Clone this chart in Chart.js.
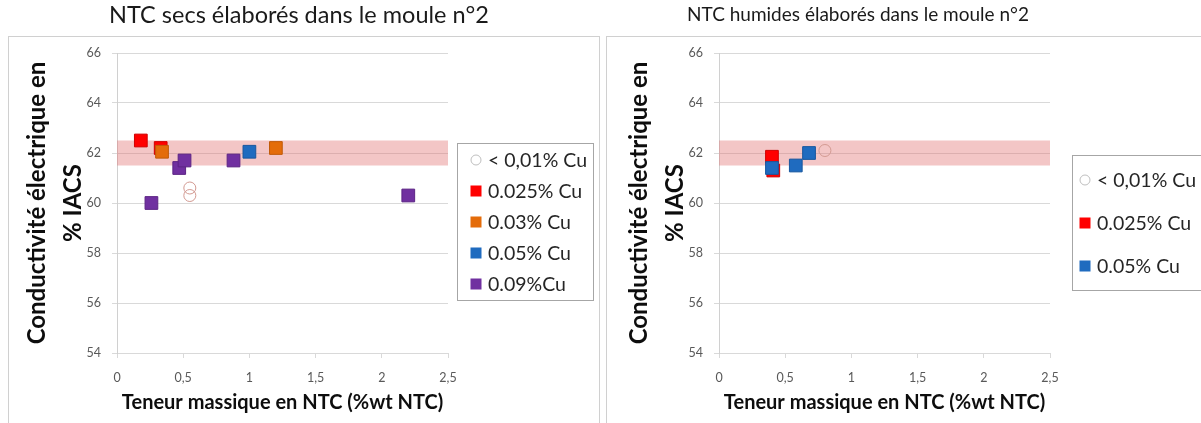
<!DOCTYPE html>
<html>
<head>
<meta charset="utf-8">
<script src="https://cdn.jsdelivr.net/npm/chart.js@4/dist/chart.umd.min.js"></script>
<style>
  html, body { margin: 0; padding: 0; background: #ffffff; }
  #wrap { position: relative; width: 1201px; height: 423px; overflow: hidden; background: #fff; }
  #c1 { position: absolute; left: 0; top: 0; }
  #c2 { position: absolute; left: 604px; top: 0; }
</style>
</head>
<body>
<div id="wrap">
  <canvas id="c1" width="604" height="423"></canvas>
  <canvas id="c2" width="597" height="423"></canvas>
</div>
<script>
// ---------- DATA ----------
const xTickLabels = ['0', '0,5', '1', '1,5', '2', '2,5'];
const yTickLabels = ['54', '56', '58', '60', '62', '64', '66'];
const seriesLabels = ['< 0,01% Cu', '0.025% Cu', '0.03% Cu', '0.05% Cu', '0.09%Cu'];

// Left: NTC secs
const secLt001X = [0.55, 0.55];
const secLt001Y = [60.6, 60.3];
const sec0025X = [0.18, 0.33];
const sec0025Y = [62.5, 62.2];
const sec003X = [0.34, 1.2];
const sec003Y = [62.05, 62.2];
const sec005X = [1.0];
const sec005Y = [62.05];
const sec009X = [0.26, 0.47, 0.51, 0.88, 2.2];
const sec009Y = [60.0, 61.4, 61.7, 61.7, 60.3];

// Right: NTC humides
const humLt001X = [0.80];
const humLt001Y = [62.1];
const hum0025X = [0.40, 0.41];
const hum0025Y = [61.85, 61.3];
const hum005X = [0.40, 0.58, 0.68];
const hum005Y = [61.4, 61.5, 62.0];

// Reference band
const bandUpper = 62.5;
const bandLower = 61.5;
const bandXLeft = [0, 2.53];
const bandXRight = [0, 2.6];

const titles = ['NTC secs élaborés dans le moule n°2', 'NTC humides élaborés dans le moule n°2'];
const yTitle = ['Conductivité électrique en', '% IACS'];
const xTitle = 'Teneur massique en NTC (%wt NTC)';

// ---------- helpers ----------
const FONT = 'Lato, "Open Sans", "Liberation Sans", sans-serif';
const styles = {
  lt001: { pointStyle: 'circle', backgroundColor: 'rgba(0,0,0,0)', borderColor: '#D39A92', pointRadius: 6, borderWidth: 1, legendColor: '#BFBFBF', order: 5 },
  c0025: { pointStyle: 'rect', backgroundColor: '#FF0000', borderColor: '#D00000', pointRadius: 9, borderWidth: 1, order: 4 },
  c003:  { pointStyle: 'rect', backgroundColor: '#E46C0A', borderColor: '#C05A08', pointRadius: 9, borderWidth: 1, order: 3 },
  c005:  { pointStyle: 'rect', backgroundColor: '#1F6BBF', borderColor: '#18579E', pointRadius: 9, borderWidth: 1, order: 2 },
  c009:  { pointStyle: 'rect', backgroundColor: '#7030A0', borderColor: '#5C2484', pointRadius: 9, borderWidth: 1, order: 1 }
};

function pts(xs, ys) { return xs.map((x, i) => ({ x: x, y: ys[i] })); }

function pointDs(label, xs, ys, st) {
  return {
    type: 'scatter', label: label, data: pts(xs, ys), showInLegend: true,
    pointStyle: st.pointStyle, pointRadius: st.pointRadius, pointHoverRadius: st.pointRadius,
    pointBackgroundColor: st.backgroundColor, pointBorderColor: st.borderColor,
    backgroundColor: st.backgroundColor, borderColor: st.borderColor,
    pointBorderWidth: st.borderWidth, legendColor: st.legendColor || st.backgroundColor,
    order: st.order
  };
}

function bandDs(xs) {
  return [
    { type: 'line', label: 'bandTop', data: xs.map(x => ({ x: x, y: bandUpper })), showInLegend: false,
      pointRadius: 0, borderWidth: 0, borderColor: 'rgba(0,0,0,0)', backgroundColor: 'rgba(224,112,112,0.40)',
      fill: '+1', clip: false, order: 10 },
    { type: 'line', label: 'bandBottom', data: xs.map(x => ({ x: x, y: bandLower })), showInLegend: false,
      pointRadius: 0, borderWidth: 0, borderColor: 'rgba(0,0,0,0)', fill: false, clip: false, order: 11 }
  ];
}

const panelPlugin = {
  id: 'panel',
  beforeDraw(chart, args, opts) {
    const ctx = chart.ctx;
    ctx.save();
    ctx.fillStyle = '#ffffff';
    ctx.fillRect(0, 0, chart.width, chart.height);
    ctx.strokeStyle = '#D0D0D0';
    ctx.lineWidth = 1;
    const b = opts.box;
    ctx.strokeRect(b[0] + 0.5, b[1] + 0.5, b[2], b[3]);
    ctx.fillStyle = '#1a1a1a';
    ctx.font = opts.titleSize + 'px ' + FONT;
    ctx.textAlign = 'center';
    ctx.textBaseline = 'middle';
    ctx.fillText(opts.title, opts.titleX, opts.titleY);
    ctx.restore();
  },
  afterDraw(chart, args, opts) {
    const ctx = chart.ctx;
    const L = opts.legend;
    ctx.save();
    ctx.fillStyle = '#ffffff';
    ctx.fillRect(L.x, L.y, L.w, L.h);
    ctx.strokeStyle = '#A6A6A6';
    ctx.lineWidth = 1;
    ctx.strokeRect(L.x + 0.5, L.y + 0.5, L.w, L.h);
    ctx.font = '19.5px ' + FONT;
    ctx.textAlign = 'left';
    ctx.textBaseline = 'middle';
    const items = chart.data.datasets.filter(d => d.showInLegend);
    items.forEach((d, i) => {
      const cy = L.y0 + i * L.dy;
      if (d.pointStyle === 'circle') {
        ctx.beginPath();
        ctx.arc(L.mx, cy, 5, 0, Math.PI * 2);
        ctx.strokeStyle = d.legendColor;
        ctx.lineWidth = 1;
        ctx.stroke();
      } else {
        ctx.fillStyle = d.legendColor;
        ctx.fillRect(L.mx - 5.5, cy - 5.5, 11, 11);
      }
      ctx.fillStyle = '#262626';
      ctx.fillText(d.label, L.tx, cy + 1);
    });
    ctx.restore();
  }
};

function makeOptions(p) {
  return {
    responsive: false,
    animation: false,
    events: [],
    layout: { padding: { left: 0, top: 53, right: p.padRight, bottom: 0 } },
    plugins: {
      legend: { display: false },
      title: { display: false },
      tooltip: { enabled: false },
      panel: p.panel
    },
    scales: {
      x: {
        type: 'linear', min: 0, max: 2.5,
        afterBuildTicks(scale) { scale.ticks = xTickLabels.map((t, i) => ({ value: i * 0.5 })); },
        afterFit(scale) { scale.height = 70; },
        ticks: {
          callback: (v, i) => xTickLabels[i],
          color: '#595959', font: { family: FONT, size: 12.5 }, padding: 12, maxRotation: 0
        },
        grid: { drawOnChartArea: false, drawTicks: true, tickLength: 5, color: '#D9D9D9' },
        border: { display: true, color: '#D9D9D9' },
        title: { display: true, text: xTitle, color: '#0d0d0d',
          font: { family: FONT, size: 20, weight: 'bold', lineHeight: 1.2 }, padding: { top: 0, bottom: 8 } }
      },
      y: {
        type: 'linear', min: 54, max: 66,
        afterBuildTicks(scale) { scale.ticks = yTickLabels.map(t => ({ value: Number(t) })); },
        afterFit(scale) { scale.width = p.yWidth; },
        ticks: {
          callback: (v, i) => yTickLabels[i],
          color: '#595959', font: { family: FONT, size: 12.5 }, padding: 11
        },
        grid: { drawTicks: true, tickLength: 5, color: '#D9D9D9' },
        border: { display: true, color: '#D0D0D0' },
        title: { display: true, text: yTitle, color: '#0d0d0d',
          font: { family: FONT, size: 24, weight: 'bold', lineHeight: 1.5 }, padding: { top: p.yTitlePad, bottom: 0 } }
      }
    }
  };
}

// Left chart
new Chart(document.getElementById('c1'), {
  type: 'scatter',
  data: {
    datasets: [
      pointDs(seriesLabels[0], secLt001X, secLt001Y, styles.lt001),
      pointDs(seriesLabels[1], sec0025X, sec0025Y, styles.c0025),
      pointDs(seriesLabels[2], sec003X, sec003Y, styles.c003),
      pointDs(seriesLabels[3], sec005X, sec005Y, styles.c005),
      pointDs(seriesLabels[4], sec009X, sec009Y, styles.c009)
    ].concat(bandDs(bandXLeft))
  },
  options: makeOptions({
    padRight: 156, yWidth: 117, yTitlePad: 19,
    panel: {
      box: [8, 36, 591, 400], title: titles[0], titleX: 299, titleY: 15, titleSize: 23.5,
      legend: { x: 457, y: 143, w: 136, h: 157, y0: 160, dy: 31, mx: 476, tx: 488 }
    }
  }),
  plugins: [panelPlugin]
});

// Right chart
new Chart(document.getElementById('c2'), {
  type: 'scatter',
  data: {
    datasets: [
      pointDs(seriesLabels[0], humLt001X, humLt001Y, styles.lt001),
      pointDs(seriesLabels[1], hum0025X, hum0025Y, styles.c0025),
      pointDs(seriesLabels[3], hum005X, hum005Y, styles.c005)
    ].concat(bandDs(bandXRight))
  },
  options: makeOptions({
    padRight: 151, yWidth: 115, yTitlePad: 17,
    panel: {
      box: [2, 36, 620, 400], title: titles[1], titleX: 254, titleY: 15, titleSize: 19,
      legend: { x: 468, y: 155, w: 140, h: 135, y0: 180, dy: 43, mx: 481, tx: 493 }
    }
  }),
  plugins: [panelPlugin]
});
</script>
</body>
</html>
